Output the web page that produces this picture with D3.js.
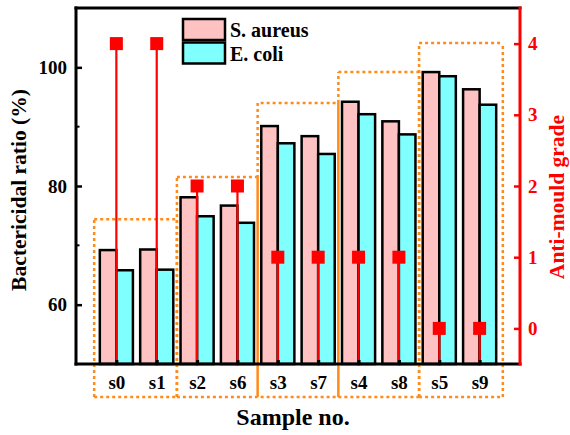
<!DOCTYPE html>
<html>
<head>
<meta charset="utf-8">
<script src="https://cdn.jsdelivr.net/npm/d3@7"></script>
<style>
  html, body { margin: 0; padding: 0; background: #fff; }
  svg { display: block; }
  text { font-family: "Liberation Serif", "Times New Roman", serif; font-weight: bold; }
</style>
</head>
<body>
<div id="chart"></div>
<script>
// Samples in display order
const categories = ["s0", "s1", "s2", "s6", "s3", "s7", "s4", "s8", "s5", "s9"];
// Bactericidal ratio (%)
const saureus = [69.2, 69.3, 78.1, 76.7, 90.1, 88.4, 94.2, 90.9, 99.2, 96.3];
const ecoli   = [65.8, 65.9, 74.9, 73.8, 87.2, 85.4, 92.1, 88.7, 98.5, 93.7];
// Anti-mould grade
const grades  = [4, 4, 2, 2, 1, 1, 1, 1, 0, 0];
// Sample groups outlined by dotted boxes (top edge in bactericidal-ratio units)
const groupMembers = [["s0", "s1"], ["s2", "s6"], ["s3", "s7"], ["s4", "s8"], ["s5", "s9"]];
const groupTops = [74.4, 81.5, 94.0, 99.2, 104.1];
// Axis ticks
const leftTicks = [60, 80, 100];
const leftMinorTicks = [70, 90];
const rightTicks = [0, 1, 2, 3, 4];
const seriesNames = ["S. aureus", "E. coli"];

const W = 570, H = 435;
const plot = { left: 76, right: 520, top: 8, bottom: 364 };
const colors = { pink: "#FFC2C2", cyan: "#80FFFF", red: "#FF0000", orange: "#FF8C1A" };

const svg = d3.select("#chart").append("svg").attr("width", W).attr("height", H);

const x = d3.scalePoint().domain(categories).range([plot.left, plot.right]).padding(1);
const step = x.step();
const y = d3.scaleLinear().domain([50, 110]).range([plot.bottom, plot.top]);
const yR = d3.scaleLinear().domain([-0.5, 4.5]).range([plot.bottom, plot.top]);

// Dotted group boxes; vertical edges run bottom-up so shared edges line up
const boxBottom = 397;
const boxes = groupMembers.map((m, i) => {
  let x0 = x(m[0]) - step / 2, x1 = x(m[m.length - 1]) + step / 2;
  if (i === 0) x0 -= 2;
  if (i === groupMembers.length - 1) x1 += 3;
  return { x0, x1, top: y(groupTops[i]), i };
});
const gBoxes = svg.append("g");
boxes.forEach(b => {
  const off = b.i === 2 ? 3 : 0;
  const line = (x1, y1, x2, y2) => gBoxes.append("line")
    .attr("x1", x1).attr("y1", y1).attr("x2", x2).attr("y2", y2)
    .attr("stroke", colors.orange).attr("stroke-width", 2.5)
    .attr("stroke-dasharray", "3,3").attr("stroke-dashoffset", off);
  line(b.x0, boxBottom, b.x0, b.top);
  line(b.x1, boxBottom, b.x1, b.top);
  line(b.x0, b.top, b.x1, b.top);
  line(b.x0, boxBottom, b.x1, boxBottom);
});

// Bars
const bw = step * 0.41;
const gBars = svg.append("g");
categories.forEach((c, i) => {
  gBars.append("rect")
    .attr("x", x(c) - bw).attr("y", y(saureus[i]))
    .attr("width", bw).attr("height", plot.bottom - y(saureus[i]))
    .attr("fill", colors.pink).attr("stroke", "#000").attr("stroke-width", 2.5);
  gBars.append("rect")
    .attr("x", x(c)).attr("y", y(ecoli[i]))
    .attr("width", bw).attr("height", plot.bottom - y(ecoli[i]))
    .attr("fill", colors.cyan).attr("stroke", "#000").attr("stroke-width", 2.5);
});

// Anti-mould grade stems
const gStem = svg.append("g");
categories.forEach((c, i) => {
  gStem.append("line")
    .attr("x1", x(c)).attr("x2", x(c))
    .attr("y1", plot.bottom).attr("y2", yR(grades[i]))
    .attr("stroke", colors.red).attr("stroke-width", 2.2);
  gStem.append("rect")
    .attr("x", x(c) - 6.5).attr("y", yR(grades[i]) - 6.5)
    .attr("width", 13).attr("height", 13)
    .attr("fill", colors.red);
});

// Left axis
const leftAxis = d3.axisLeft(y).tickValues(leftTicks).tickSizeInner(-6).tickSizeOuter(0).tickPadding(9).tickFormat(d3.format("d"));
const gL = svg.append("g").attr("transform", `translate(${plot.left},0)`).call(leftAxis);
gL.select(".domain").remove();
gL.selectAll(".tick line").attr("stroke", "#000").attr("stroke-width", 2.5);
gL.selectAll(".tick text").attr("fill", "#000").attr("font-size", 19)
  .attr("font-family", "Liberation Serif").attr("font-weight", "bold");
svg.append("g").selectAll("line").data(leftMinorTicks).join("line")
  .attr("x1", plot.left).attr("x2", plot.left + 3.5)
  .attr("y1", d => y(d)).attr("y2", d => y(d))
  .attr("stroke", "#000").attr("stroke-width", 2);

// Right axis
const rightAxis = d3.axisRight(yR).tickValues(rightTicks).tickSizeInner(-6).tickSizeOuter(0).tickPadding(8).tickFormat(d3.format("d"));
const gR = svg.append("g").attr("transform", `translate(${plot.right},0)`).call(rightAxis);
gR.select(".domain").remove();
gR.selectAll(".tick line").attr("stroke", colors.red).attr("stroke-width", 2.5);
gR.selectAll(".tick text").attr("fill", colors.red).attr("font-size", 19)
  .attr("font-family", "Liberation Serif").attr("font-weight", "bold");

// Bottom axis
const bottomAxis = d3.axisBottom(x).tickSizeInner(-4).tickSizeOuter(0).tickPadding(12);
const gB = svg.append("g").attr("transform", `translate(0,${plot.bottom})`).call(bottomAxis);
gB.select(".domain").remove();
gB.selectAll(".tick line").attr("stroke", "#000").attr("stroke-width", 3);
gB.selectAll(".tick text").attr("fill", "#000").attr("font-size", 19)
  .attr("font-family", "Liberation Serif").attr("font-weight", "bold");

// Frame
svg.append("line").attr("x1", plot.left).attr("x2", plot.right).attr("y1", plot.top).attr("y2", plot.top)
  .attr("stroke", "#000").attr("stroke-width", 3).attr("stroke-linecap", "square");
svg.append("line").attr("x1", plot.left).attr("x2", plot.right).attr("y1", plot.bottom).attr("y2", plot.bottom)
  .attr("stroke", "#000").attr("stroke-width", 3).attr("stroke-linecap", "square");
svg.append("line").attr("x1", plot.left).attr("x2", plot.left).attr("y1", plot.top).attr("y2", plot.bottom)
  .attr("stroke", "#000").attr("stroke-width", 3).attr("stroke-linecap", "square");
svg.append("line").attr("x1", plot.right).attr("x2", plot.right).attr("y1", plot.top - 1.5).attr("y2", plot.bottom + 1.5)
  .attr("stroke", colors.red).attr("stroke-width", 3);

// Axis titles
svg.append("text").attr("x", 293).attr("y", 425).attr("text-anchor", "middle")
  .attr("font-size", 24).attr("fill", "#000").text("Sample no.");
svg.append("text").attr("transform", "translate(26,190) rotate(-90)").attr("text-anchor", "middle")
  .attr("font-size", 21.5).attr("fill", "#000").text("Bactericidal ratio (%)");
svg.append("text").attr("transform", "translate(564,197) rotate(-90)").attr("text-anchor", "middle")
  .attr("font-size", 21.5).attr("fill", colors.red).text("Anti-mould grade");

// Legend
const legend = svg.append("g").attr("transform", "translate(183,19)");
[colors.pink, colors.cyan].forEach((c, i) => {
  legend.append("rect").attr("x", 0).attr("y", i * 23.5).attr("width", 42).attr("height", 21)
    .attr("fill", c).attr("stroke", "#000").attr("stroke-width", 2.5);
  legend.append("text").attr("x", 47).attr("y", i * 23.5 + 18).attr("font-size", 20)
    .attr("fill", "#000").text(seriesNames[i]);
});
</script>
</body>
</html>
